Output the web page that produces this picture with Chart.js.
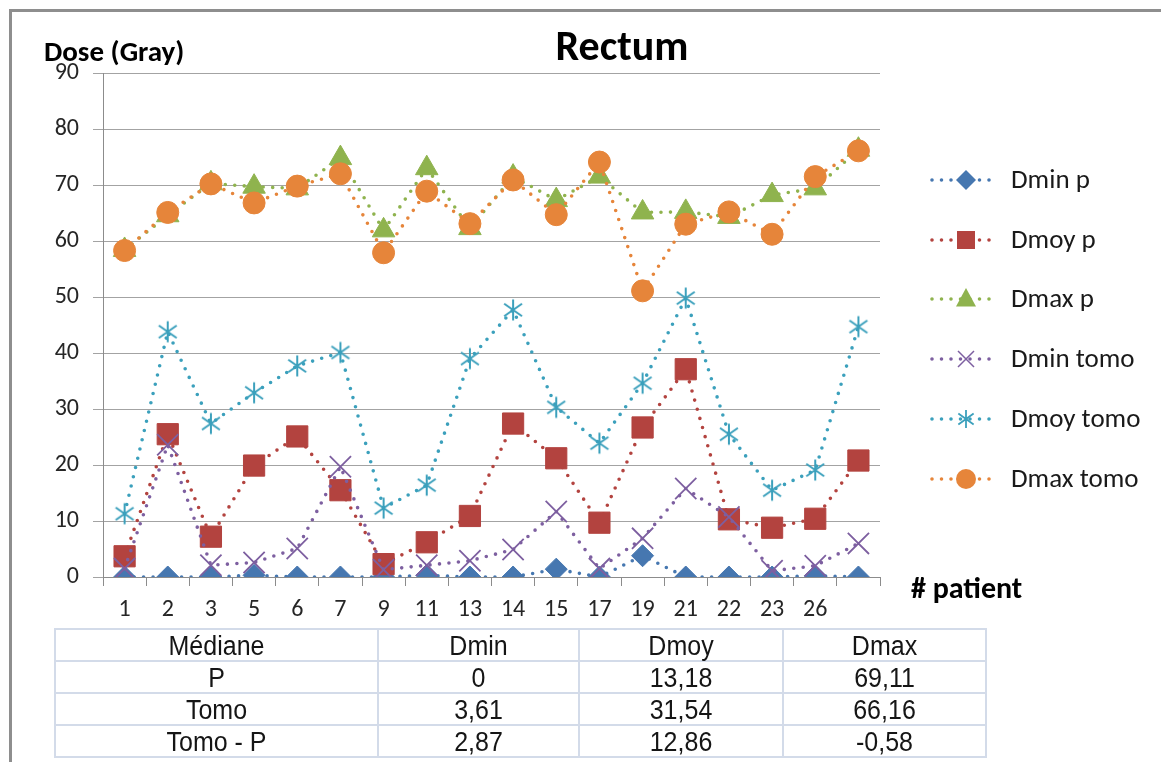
<!DOCTYPE html>
<html>
<head>
<meta charset="utf-8">
<script src="https://cdn.jsdelivr.net/npm/chart.js@4/dist/chart.umd.min.js"></script>
<style>
  html, body { margin: 0; padding: 0; background: #fff; }
  #wrap { position: relative; width: 1161px; height: 762px; overflow: hidden; background: #fff; }
  #frame { position: absolute; left: 9px; top: 9px; width: 1160px; height: 760px; border-top: 3px solid #8e8e8e; border-left: 3px solid #8e8e8e; box-sizing: border-box; }
  canvas { position: absolute; left: 0; top: 0; }
  table { position: absolute; left: 54px; top: 628px; border-collapse: collapse; font-family: "Liberation Sans", Arial, sans-serif; font-size: 25px; color: #151515; }
  td { border: 2px solid #d3dbe9; text-align: center; height: 30px; padding: 0; line-height: 29px; }
  td span { display: inline-block; transform: scaleY(1.08); }
</style>
</head>
<body>
<div id="wrap">
  <div id="frame"></div>
  <canvas id="c" width="1161" height="762"></canvas>
  <table id="tbl"></table>
</div>
<script>
// ---- data ----
const patients = ['1','2','3','5','6','7','9','11','13','14','15','17','19','21','22','23','26',''];
const dminP = [0,0,0,0.3,0,0,0,0.3,0,0,1.4,0,3.8,0,0,0,0.2,0];
const dmoyP = [3.7,25.5,7.2,19.9,25.1,15.5,2.3,6.2,10.9,27.4,21.2,9.7,26.7,37.1,10.3,8.8,10.4,20.8];
const dmaxP = [58.4,64.6,70.3,69.7,69.4,74.8,61.9,73.0,62.3,71.5,67.3,71.5,65.1,65.2,64.3,68.2,69.4,76.3];
const dminT = [1.5,23.6,2.1,2.6,5.1,19.7,1.3,2.1,2.9,4.9,11.7,1.5,6.9,15.8,10.7,1.1,2.0,6.0];
const dmoyT = [11.3,43.8,27.4,32.9,37.7,40.1,12.3,16.4,39.0,47.7,30.3,23.9,34.6,49.8,25.5,15.5,19.1,44.7];
const dmaxT = [58.3,65.1,70.2,66.8,69.8,72.0,57.9,68.9,63.1,70.9,64.7,74.1,51.1,63.0,65.2,61.2,71.5,76.1];
const seriesNames = ['Dmin p','Dmoy p','Dmax p','Dmin tomo','Dmoy tomo','Dmax tomo'];
const tableHeader = ['Médiane','Dmin','Dmoy','Dmax'];
const tableRows = [
  ['P','0','13,18','69,11'],
  ['Tomo','3,61','31,54','66,16'],
  ['Tomo - P','2,87','12,86','-0,58']
];
const yTicks = [0,10,20,30,40,50,60,70,80,90];

// ---- table ----
const colW = [321, 199, 202, 201];
const tbl = document.getElementById('tbl');
[tableHeader].concat(tableRows).forEach(r => {
  const tr = document.createElement('tr');
  r.forEach((v, i) => {
    const td = document.createElement('td');
    const sp = document.createElement('span'); sp.textContent = v; td.appendChild(sp);
    td.style.width = colW[i] + 'px'; tr.appendChild(td);
  });
  tbl.appendChild(tr);
});

// ---- asterisk marker ----
function makeAsterisk(color, s) {
  const c = document.createElement('canvas');
  c.width = s; c.height = s;
  const g = c.getContext('2d');
  g.strokeStyle = color; g.lineWidth = 2;
  const m = s / 2, r = s / 2 - 1.5;
  g.beginPath();
  g.moveTo(m, m - r); g.lineTo(m, m + r);
  g.moveTo(m - r * 0.85, m - r * 0.6); g.lineTo(m + r * 0.85, m + r * 0.6);
  g.moveTo(m + r * 0.85, m - r * 0.6); g.lineTo(m - r * 0.85, m + r * 0.6);
  g.stroke();
  return c;
}

const colors = ['#4677B0','#B3433F','#8FB34E','#7D5FA0','#3BA0BC','#E6853A'];
const styles = ['rectRot','rect','triangle','crossRot','ast','circle'];
const radii  = [11, 15, 13, 15, 11, 11];
const dataArr = [dminP, dmoyP, dmaxP, dminT, dmoyT, dmaxT];
const asterImg = makeAsterisk(colors[4], 24);

const datasets = dataArr.map((d, i) => ({
  label: seriesNames[i],
  data: d,
  borderColor: colors[i],
  backgroundColor: colors[i],
  borderWidth: 3.6,
  borderDash: [0, 9.5],
  borderCapStyle: 'round',
  pointStyle: styles[i] === 'ast' ? asterImg : styles[i],
  pointRadius: radii[i],
  pointHoverRadius: radii[i],
  pointBorderWidth: styles[i] === 'crossRot' ? 1.8 : 1,
  pointBackgroundColor: colors[i],
  pointBorderColor: colors[i],
  tension: 0,
  order: 6 - i
}));

const FONT = '"Carlito", "Lato", "Open Sans", sans-serif';

function drawMarker(ctx, style, x, y, r, color) {
  ctx.save();
  ctx.fillStyle = color; ctx.strokeStyle = color; ctx.setLineDash([]);
  ctx.beginPath();
  if (style === 'rectRot') {
    ctx.moveTo(x, y - r); ctx.lineTo(x + r, y); ctx.lineTo(x, y + r); ctx.lineTo(x - r, y); ctx.closePath(); ctx.fill();
  } else if (style === 'rect') {
    ctx.rect(x - r, y - r, 2 * r, 2 * r); ctx.fill();
  } else if (style === 'triangle') {
    ctx.moveTo(x, y - r * 1.1); ctx.lineTo(x + r, y + r * 0.75); ctx.lineTo(x - r, y + r * 0.75); ctx.closePath(); ctx.fill();
  } else if (style === 'crossRot') {
    ctx.lineWidth = 1.5;
    ctx.moveTo(x - r, y - r); ctx.lineTo(x + r, y + r); ctx.moveTo(x + r, y - r); ctx.lineTo(x - r, y + r); ctx.stroke();
  } else if (style === 'ast') {
    ctx.lineWidth = 1.8;
    ctx.moveTo(x, y - r); ctx.lineTo(x, y + r);
    ctx.moveTo(x - r * 0.85, y - r * 0.6); ctx.lineTo(x + r * 0.85, y + r * 0.6);
    ctx.moveTo(x + r * 0.85, y - r * 0.6); ctx.lineTo(x - r * 0.85, y + r * 0.6);
    ctx.stroke();
  } else {
    ctx.arc(x, y, r, 0, Math.PI * 2); ctx.fill();
  }
  ctx.restore();
}

const decor = {
  id: 'decor',
  afterDraw(chart) {
    const ctx = chart.ctx;
    ctx.save();
    ctx.fillStyle = '#000';
    ctx.textBaseline = 'middle';
    ctx.font = 'bold 42px ' + FONT;
    ctx.textAlign = 'center';
    ctx.fillText('Rectum', 622, 49);
    ctx.font = 'bold 29px ' + FONT;
    ctx.textAlign = 'left';
    ctx.fillText('Dose (Gray)', 44, 54);
    ctx.font = 'bold 30px ' + FONT;
    ctx.fillText('# patient', 911, 590);
    // legend
    const ys = [180, 240, 299, 359, 419, 479];
    ctx.font = '27px ' + FONT;
    ys.forEach((y, i) => {
      ctx.save();
      ctx.strokeStyle = colors[i];
      ctx.lineWidth = 3.6; ctx.lineCap = 'round';
      ctx.setLineDash([0, 9.5]);
      ctx.beginPath(); ctx.moveTo(932, y); ctx.lineTo(998, y); ctx.stroke();
      ctx.restore();
      const lr = {rectRot: 10, rect: 9, triangle: 10, crossRot: 8, ast: 9, circle: 10}[styles[i]];
      drawMarker(ctx, styles[i], 966, y, lr, colors[i]);
      ctx.fillStyle = '#1a1a1a';
      ctx.textAlign = 'left';
      ctx.fillText(seriesNames[i], 1011, y + 1);
    });
    ctx.restore();
  }
};

new Chart(document.getElementById('c'), {
  type: 'line',
  data: { labels: patients, datasets },
  options: {
    responsive: false,
    animation: false,
    events: [],
    layout: { padding: { left: 0, top: 73, right: 281, bottom: 135 } },
    plugins: { legend: { display: false }, title: { display: false }, tooltip: { enabled: false } },
    scales: {
      x: {
        offset: true,
        grid: { offset: true, drawOnChartArea: false, drawTicks: true, tickLength: 9, color: '#8c8c8c', lineWidth: 1 },
        border: { display: true, color: '#8c8c8c', width: 1 },
        ticks: { color: '#262626', font: { family: FONT, size: 24 }, padding: 10, maxRotation: 0, autoSkip: false },
        afterFit(s) { s.height = 50; }
      },
      y: {
        min: 0, max: 90,
        afterBuildTicks(s) { s.ticks = yTicks.map(v => ({ value: v })); },
        grid: { color: '#a3a3a3', lineWidth: 1, tickLength: 10 },
        border: { display: true, color: '#8c8c8c', width: 1 },
        ticks: { color: '#262626', font: { family: FONT, size: 24 }, padding: 14 },
        afterFit(s) { s.width = 103; }
      }
    }
  },
  plugins: [decor]
});
</script>
</body>
</html>
